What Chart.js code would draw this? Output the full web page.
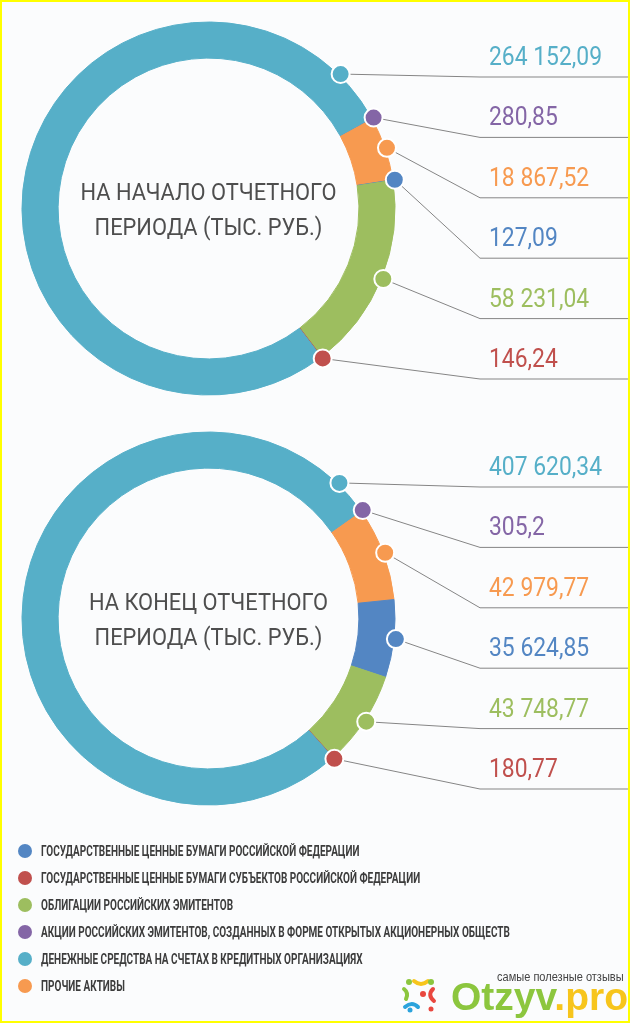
<!doctype html>
<html lang="ru">

<head>
    <meta charset="utf-8">
    <title>Структура активов</title>
    <script src="https://cdn.jsdelivr.net/npm/chart.js"></script>
    <style>
        html, body { margin: 0; padding: 0; }
        body {
            width: 630px; height: 1023px; position: relative; overflow: hidden;
            background: #fbfcfd;
            font-family: Roboto, 'DejaVu Sans Condensed', sans-serif;
        }
        .frame {
            position: absolute; left: 0; top: 0; width: 630px; height: 1023px;
            box-sizing: border-box; border: 2px solid #ffff00; pointer-events: none;
        }
        canvas { position: absolute; left: 0; }
        #legend { position: absolute; left: 18px; top: 837px; }
        .row { height: 27px; display: flex; align-items: center; }
        .dot { width: 14px; height: 14px; border-radius: 50%; margin-right: 9px; flex: none; }
        .row span {
            display: inline-block; font-weight: bold; font-size: 15.5px; color: #3c3c3c; white-space: nowrap;
            transform: scaleX(0.645); transform-origin: left center;
        }
        #logo { position: absolute; left: 401px; top: 977px; }
        .tag {
            position: absolute; left: 497px; top: 970px; white-space: nowrap;
            font: 12px 'Liberation Sans', sans-serif; color: #444;
            transform: scaleX(0.92); transform-origin: left top;
        }
        .brand { position: absolute; left: 451px; top: 977px; font: bold 39px 'Liberation Sans', sans-serif; line-height: 1; white-space: nowrap; }
        .brand .g { color: #8cc63e; }
        .brand .y { color: #f7c51c; }
    </style>
</head>

<body>
    <canvas id="startChart" width="630" height="417" style="top:0"></canvas>
    <canvas id="endChart" width="630" height="417" style="top:410px"></canvas>
    <div id="legend"></div>

    <svg id="logo" width="38" height="36" viewBox="0 0 38 36">
        <circle cx="8" cy="5" r="3" fill="#8cc63e"/>
        <path d="M13 4 Q20 10 27 4" stroke="#f7c51c" stroke-width="4" fill="none" stroke-linecap="round"/>
        <circle cx="30" cy="5" r="3" fill="#8cc63e"/>
        <path d="M3 12 Q8 16 5 22" stroke="#8cc63e" stroke-width="4" fill="none" stroke-linecap="round"/>
        <circle cx="22" cy="17" r="3" fill="#e9473f"/>
        <path d="M32 12 Q26 18 33 24" stroke="#e9473f" stroke-width="4" fill="none" stroke-linecap="round"/>
        <path d="M4 30 Q11 24 17 30" stroke="#2ba3dc" stroke-width="4" fill="none" stroke-linecap="round"/>
        <circle cx="9" cy="33" r="2.5" fill="#2ba3dc"/>
        <circle cx="30" cy="32" r="2.5" fill="#e9473f"/>
    </svg>
    <div class="tag">самые полезные отзывы</div>
    <div class="brand"><span class="g">Otzyv</span><span class="y">.pro</span></div>
    <div class="frame"></div>

    <script>
        // categories in the order the slices run clockwise round the ring
        const categories = [
            'АКЦИИ РОССИЙСКИХ ЭМИТЕНТОВ, СОЗДАННЫХ В ФОРМЕ ОТКРЫТЫХ АКЦИОНЕРНЫХ ОБЩЕСТВ',
            'ПРОЧИЕ АКТИВЫ',
            'ГОСУДАРСТВЕННЫЕ ЦЕННЫЕ БУМАГИ РОССИЙСКОЙ ФЕДЕРАЦИИ',
            'ОБЛИГАЦИИ РОССИЙСКИХ ЭМИТЕНТОВ',
            'ГОСУДАРСТВЕННЫЕ ЦЕННЫЕ БУМАГИ СУБЪЕКТОВ РОССИЙСКОЙ ФЕДЕРАЦИИ',
            'ДЕНЕЖНЫЕ СРЕДСТВА НА СЧЕТАХ В КРЕДИТНЫХ ОРГАНИЗАЦИЯХ'
        ];
        const colors = ['#8466a6', '#f79a50', '#5386c3', '#9dbe5f', '#c0504d', '#56afc8'];

        // тыс. руб.
        const startValues = [280.85, 18867.52, 127.09, 58231.04, 146.24, 264152.09];
        const endValues = [305.2, 42979.77, 35624.85, 43748.77, 180.77, 407620.34];

        const startTitle = ['НА НАЧАЛО ОТЧЕТНОГО', 'ПЕРИОДА (ТЫС. РУБ.)'];
        const endTitle = ['НА КОНЕЦ ОТЧЕТНОГО', 'ПЕРИОДА (ТЫС. РУБ.)'];

        // order of the shared legend under the charts
        const legendOrder = [2, 4, 3, 0, 5, 1];

        function fmt(v) {
            const parts = String(v).split('.');
            const whole = parts[0].replace(/\B(?=(\d{3})+(?!\d))/g, ' ');
            return parts[1] ? whole + ',' + parts[1] : whole;
        }

        // narrow text: the original uses a condensed face
        function narrowText(ctx, text, x, y, sx) {
            ctx.save();
            ctx.translate(x, y);
            ctx.scale(sx, 1);
            ctx.fillText(text, 0, 0);
            ctx.restore();
        }

        // markers on the ring, leader lines and value labels on the right
        const ringLabels = {
            id: 'ringLabels',
            afterDraw(chart, args, opts) {
                const ctx = chart.ctx;
                const ds = chart.data.datasets[0];
                const meta = chart.getDatasetMeta(0);
                const biggest = ds.data.indexOf(Math.max(...ds.data));

                const marks = meta.data.map((arc, i) => {
                    const p = arc.getProps(['x', 'y', 'startAngle', 'endAngle', 'outerRadius'], true);
                    const a = i === biggest ? p.endAngle - opts.bigBack * Math.PI / 180 : (p.startAngle + p.endAngle) / 2;
                    const r = p.outerRadius + 2;
                    return { i: i, x: p.x + Math.cos(a) * r, y: p.y + Math.sin(a) * r, cx: p.x, cy: p.y };
                });
                marks.sort((a, b) => a.y - b.y);

                ctx.save();
                marks.forEach((m, row) => {
                    const ly = opts.firstLine + row * opts.lineGap;
                    ctx.strokeStyle = '#858585';
                    ctx.lineWidth = 1;
                    ctx.beginPath();
                    ctx.moveTo(m.x, m.y);
                    ctx.lineTo(opts.elbowX, ly);
                    ctx.lineTo(chart.width - 2, ly);
                    ctx.stroke();

                    ctx.fillStyle = ds.backgroundColor[m.i];
                    ctx.font = "26px Roboto, 'DejaVu Sans Condensed', sans-serif";
                    ctx.textAlign = 'left';
                    ctx.textBaseline = 'alphabetic';
                    narrowText(ctx, fmt(ds.data[m.i]), opts.textX, ly - 12, 0.88);
                });

                marks.forEach(m => {
                    ctx.beginPath();
                    ctx.arc(m.x, m.y, 9, 0, Math.PI * 2);
                    ctx.fillStyle = ds.backgroundColor[m.i];
                    ctx.fill();
                    ctx.strokeStyle = '#ffffff';
                    ctx.lineWidth = 2;
                    ctx.stroke();
                });

                // title inside the ring
                const c = marks[0];
                ctx.fillStyle = '#4e4e4e';
                ctx.font = "23.5px Roboto, 'DejaVu Sans Condensed', sans-serif";
                ctx.textAlign = 'center';
                narrowText(ctx, opts.title[0], c.cx, c.cy - 9, 0.93);
                narrowText(ctx, opts.title[1], c.cx, c.cy + 26, 0.93);
                ctx.restore();
            }
        };

        function makeRing(id, values, rotation, title, bigBack) {
            return new Chart(document.getElementById(id), {
                type: 'doughnut',
                data: {
                    labels: categories,
                    datasets: [{
                        data: values,
                        backgroundColor: colors,
                        borderColor: colors,
                        borderWidth: 1,
                        hoverOffset: 0
                    }]
                },
                options: {
                    responsive: false,
                    animation: false,
                    rotation: rotation,
                    radius: 186.5,
                    cutout: 150,
                    layout: { padding: { left: 22, top: 22, right: 235, bottom: 22 } },
                    events: [],
                    plugins: {
                        legend: { display: false },
                        tooltip: { enabled: false },
                        ringLabels: { title: title, bigBack: bigBack, firstLine: 77, lineGap: 60.4, elbowX: 480, textX: 489 }
                    }
                },
                plugins: [ringLabels]
            });
        }

        makeRing('startChart', startValues, 61, startTitle, 16.5);
        makeRing('endChart', endValues, 54.8, endTitle, 10.8);

        // shared legend
        const legend = document.getElementById('legend');
        legendOrder.forEach(i => {
            const row = document.createElement('div');
            row.className = 'row';
            const dot = document.createElement('div');
            dot.className = 'dot';
            dot.style.background = colors[i];
            const text = document.createElement('span');
            text.textContent = categories[i];
            row.appendChild(dot);
            row.appendChild(text);
            legend.appendChild(row);
        });
    </script>
</body>

</html>
